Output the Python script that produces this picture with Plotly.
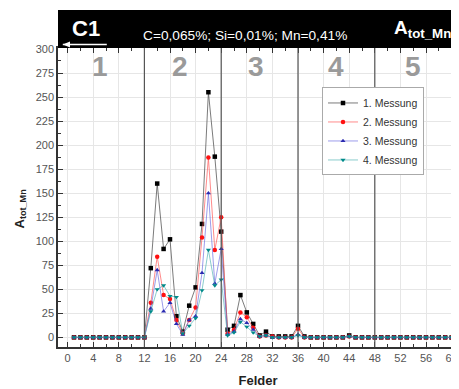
import plotly.graph_objects as go

felder = list(range(1, 61))

def series(vals):
    out = [0] * 60
    for k, v in vals.items():
        out[k - 1] = v
    return out

messung1 = series({13: 72, 14: 160, 15: 92, 16: 102, 17: 22, 18: 6, 19: 33, 20: 52, 21: 118,
                   22: 255, 23: 188, 24: 110, 25: 8, 26: 12, 27: 44, 28: 26, 29: 14, 30: 2,
                   31: 6, 32: 1, 33: 1, 34: 1, 35: 1, 36: 12, 37: 1, 44: 2})
messung2 = series({13: 36, 14: 84, 15: 44, 16: 40, 17: 18, 18: 4, 19: 18, 20: 31, 21: 104,
                   22: 187, 23: 91, 24: 125, 25: 4, 26: 8, 27: 26, 28: 21, 29: 10, 30: 1,
                   31: 2, 32: 1, 36: 9, 44: 1})
messung3 = series({13: 30, 14: 70, 15: 27, 16: 36, 17: 14, 18: 3, 19: 18, 20: 22, 21: 67,
                   22: 150, 23: 56, 24: 92, 25: 3, 26: 6, 27: 19, 28: 15, 29: 8, 30: 1,
                   31: 2, 36: 3, 44: 1})
messung4 = series({13: 27, 14: 50, 15: 54, 16: 43, 17: 42, 18: 4, 19: 12, 20: 20, 21: 49,
                   22: 91, 23: 54, 24: 60, 25: 2, 26: 5, 27: 16, 28: 11, 29: 5, 30: 1,
                   31: 2, 36: 2, 44: 1})

names = ["1. Messung", "2. Messung", "3. Messung", "4. Messung"]
marker_colors = ["#000000", "#ff1010", "#2a2ab0", "#008a8a"]
line_colors = ["rgba(90,90,90,0.8)", "rgba(255,90,90,0.7)", "rgba(90,90,220,0.6)", "rgba(60,170,170,0.6)"]
symbols = ["square", "circle", "triangle-up", "triangle-down"]

sections = ["1", "2", "3", "4", "5"]
section_pos = [5, 17.5, 29.5, 42, 54]
dividers = [12, 24, 36, 48]

fig = go.Figure()
for name, ys, mc, lc, sym in zip(names, [messung1, messung2, messung3, messung4],
                                 marker_colors, line_colors, symbols):
    fig.add_trace(go.Scatter(x=felder, y=ys, name=name, mode="lines+markers",
                             line=dict(color=lc, width=1),
                             marker=dict(color=mc, symbol=sym, size=4.5)))

for d in dividers:
    fig.add_shape(type="line", xref="x", yref="paper", x0=d, x1=d, y0=0, y1=1,
                  line=dict(color="#555555", width=1.2))

for s, p in zip(sections, section_pos):
    fig.add_annotation(x=p, y=1, xref="x", yref="paper", yanchor="top", yshift=-1,
                       text="<b>" + s + "</b>", showarrow=False,
                       font=dict(size=28, color="#9a9a9a", family="Arial, Liberation Sans"))

# header bar
fig.add_shape(type="rect", xref="paper", yref="paper", x0=0, x1=1.01, y0=1, y1=1.127,
              fillcolor="black", line=dict(width=0), layer="above")
fig.add_annotation(xref="paper", yref="paper", x=0.03, y=1.066, xanchor="left", yanchor="middle",
                   text="<b>C1</b>", showarrow=False,
                   font=dict(size=22, color="white", family="Arial, Liberation Sans"))
fig.add_annotation(xref="paper", yref="paper", x=0.208, y=1.043, xanchor="left", yanchor="middle",
                   text="C=0,065%; Si=0,01%; Mn=0,41%", showarrow=False,
                   font=dict(size=13.7, color="white", family="Arial, Liberation Sans"))
fig.add_annotation(xref="paper", yref="paper", x=0.835, y=1.063, xanchor="left", yanchor="middle",
                   text="<b>A<sub>tot_Mn</sub></b>", showarrow=False,
                   font=dict(size=19, color="white", family="Arial, Liberation Sans"))
fig.add_shape(type="line", xref="paper", yref="paper", x0=0.012, x1=0.122, y0=1.012, y1=1.012,
              line=dict(color="white", width=1.5), layer="above")
fig.add_shape(type="path", xref="paper", yref="paper",
              path="M 0.012 1.012 L 0.03 1.022 L 0.03 1.002 Z",
              fillcolor="white", line=dict(width=0), layer="above")

# y-axis title
fig.add_annotation(xref="paper", yref="paper", x=-0.095, y=0.46, xanchor="center", yanchor="middle",
                   text="<b>A<sub>tot_Mn</sub></b>", showarrow=False, textangle=-90,
                   font=dict(size=13, color="#222222", family="Arial, Liberation Sans"))

fig.update_layout(
    width=451, height=381,
    margin=dict(l=50, r=1, t=40, b=42, autoexpand=False),
    paper_bgcolor="white", plot_bgcolor="white",
    font=dict(family="Arial, Liberation Sans", size=11, color="#555555"),
    legend=dict(x=0.66, y=0.868, xanchor="left", yanchor="top",
                bgcolor="white", bordercolor="#aaaaaa", borderwidth=1,
                font=dict(size=10.5, color="#333333"), itemwidth=30, tracegroupgap=0),
    showlegend=True,
)
fig.update_xaxes(range=[-1.5, 61], tick0=0, dtick=4, automargin=False, ticklabeloverflow="allow",
                 showgrid=True, gridcolor="#e6e6e6", gridwidth=1,
                 showline=True, linecolor="#333333", linewidth=1.5, mirror="ticks",
                 ticks="inside", ticklen=5, tickcolor="#333333",
                 minor=dict(ticks="inside", ticklen=3, dtick=2, tick0=0, tickcolor="#333333", showgrid=False),
                 zeroline=False,
                 title=dict(text="<b>Felder</b>", font=dict(size=13, color="#222222"), standoff=13))
fig.update_yaxes(range=[-10, 301], tick0=0, dtick=25, automargin=False,
                 showgrid=True, gridcolor="#e6e6e6", gridwidth=1,
                 showline=True, linecolor="#333333", linewidth=1.5, mirror="ticks",
                 ticks="inside", ticklen=5, tickcolor="#333333",
                 minor=dict(ticks="inside", ticklen=3, dtick=12.5, tick0=0, tickcolor="#333333", showgrid=False),
                 zeroline=False)

fig.write_html("out.html")
